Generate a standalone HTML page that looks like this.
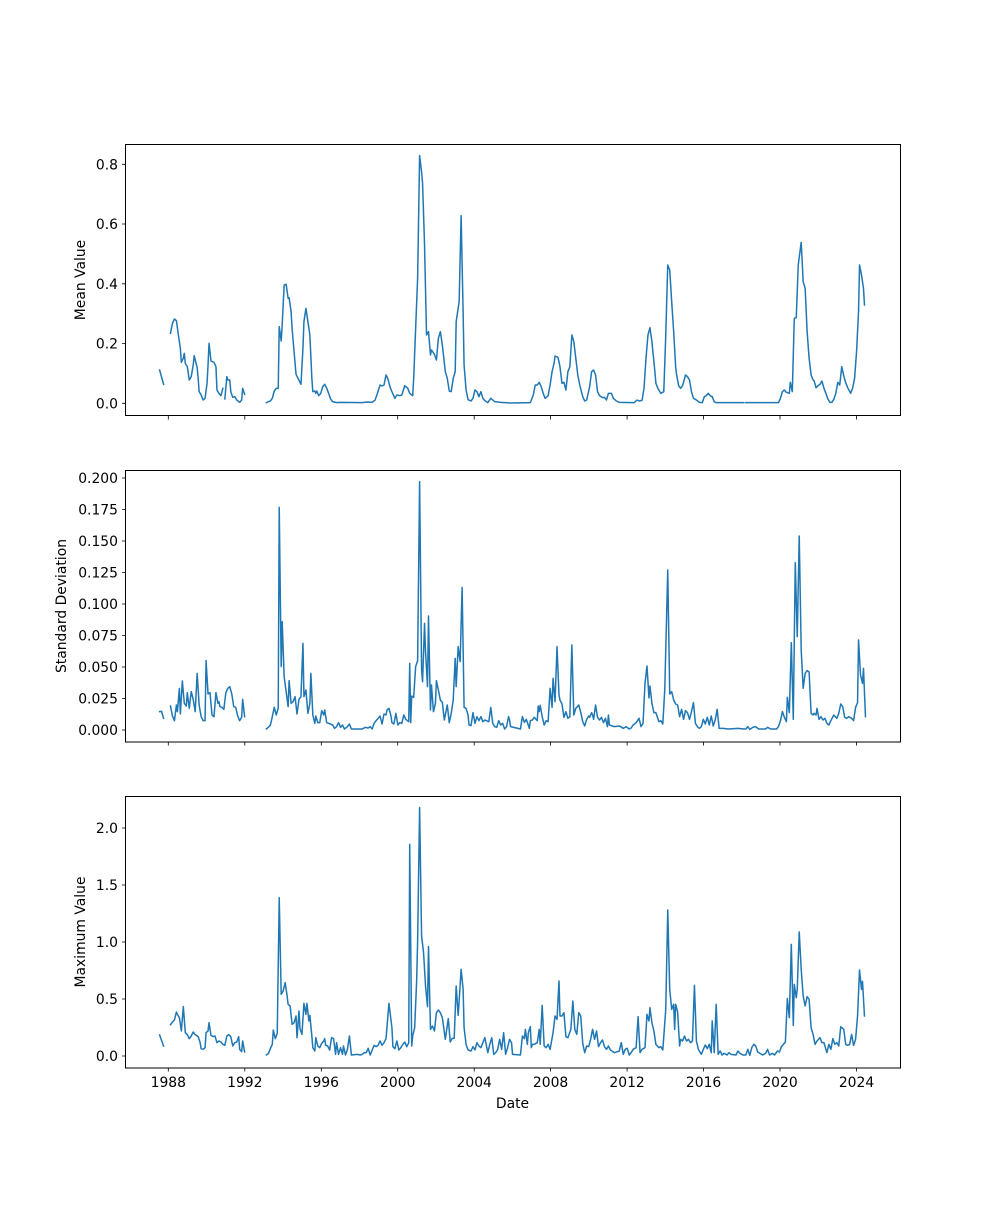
<!DOCTYPE html>
<html><head><meta charset="utf-8"><style>
html,body{margin:0;padding:0;background:#fff;}
svg text{font-family:"DejaVu Sans","Liberation Sans",sans-serif;font-size:13.9px;fill:#000;}
polyline{vector-effect:non-scaling-stroke;}
</style></head><body>
<svg width="1000" height="1200" viewBox="0 0 1000 1200" xmlns="http://www.w3.org/2000/svg">
<rect width="1000" height="1200" fill="#fff"/>

<!-- Panel 1 -->
<g transform="translate(125,145) scale(0.4943,0.33333)" fill="none" stroke="#1f77b4" stroke-width="1.5" stroke-linejoin="round" stroke-linecap="square">
<polyline points="70,675 78,718"/>
<polyline points="92,565 96,535 100,522 104,527 108,570 112,610 114,652 118,640 120,625 122,655 126,665 130,705 134,695 138,660 140,632 146,668 148,700 150,740 154,750 158,765 162,760 166,715 168,660 170,595 174,648 180,652 184,665 186,735 190,745 194,752 198,730"/>
<polyline points="202,762 206,695 208,705 212,705 214,740 218,757 222,755 226,765 232,772 236,765 238,730 242,748"/>
<polyline points="286,773 290,770 294,768 298,760 302,738 306,730 310,730 312,545 316,588 318,540 322,420 326,418 330,460 332,458 336,500 338,550 342,620 346,688 350,700 356,718 360,610 362,530 366,490 370,530 374,570 378,700 380,740 384,738 386,745 388,738 392,752 396,745 400,725 404,718 408,730 412,745 416,762 420,770 428,773 436,772 480,773 490,771 500,772 506,765 510,748 516,720 520,723 524,720 528,690 532,702 536,725 540,740 546,760 550,750 556,752 560,750 566,722 572,730 576,745 582,752 584,700 588,550 592,400 596,32 600,80 602,115 606,300 610,570 614,560 618,630 620,615 626,628 630,645 634,580 638,560 642,600 648,680 652,700 656,738 660,740 664,700 668,680 670,530 676,470 680,212 684,500 686,660 690,735 694,764 700,768 704,760 708,735 712,740 716,755 720,740 724,760 728,767 734,773 740,760 748,770 760,772 780,774 820,773 826,750 830,720 834,720 838,712 842,725 846,745 850,760 856,752 860,720 864,680 868,655 870,633 876,637 880,665 884,715 888,712 892,735 896,680 900,665 904,570 908,590 912,640 916,690 920,720 926,755 930,768 934,765 940,725 944,680 948,675 952,690 956,740 960,752 966,758 970,757 974,765 978,745 984,745 988,760 994,768 1000,772 1030,773 1036,765 1040,768 1046,766 1050,730 1054,640 1058,570 1062,548 1066,590 1072,680 1074,715 1078,730 1084,745 1090,740 1094,570 1098,360 1102,375 1106,470 1110,560 1114,665 1116,690 1120,722 1124,730 1128,722 1134,690 1138,695 1142,705 1146,740 1150,760 1156,765 1162,772 1168,773 1172,755 1176,752 1180,745 1184,752 1188,755 1192,770 1196,773 1252,773"/>
<polyline points="1256,773 1322,773 1326,760 1330,740 1334,735 1338,742 1344,745 1346,712 1350,740 1354,520 1358,518 1362,360 1368,292 1372,410 1376,430 1380,560 1384,640 1388,690 1392,705 1394,707 1398,728 1402,722 1406,718 1410,708 1414,730 1418,745 1422,762 1426,772 1430,772 1434,763 1438,745 1442,712 1446,720 1450,665 1454,692 1458,713 1462,728 1468,745 1472,730 1476,700 1480,620 1484,500 1486,360 1490,390 1494,430 1496,480"/>
</g>

<!-- Panel 2 -->
<g transform="translate(125,470) scale(0.4943,0.33333)" fill="none" stroke="#1f77b4" stroke-width="1.5" stroke-linejoin="round" stroke-linecap="square">
<polyline points="70,725 74,724 78,745"/>
<polyline points="92,708 96,738 100,752 104,705 106,725 110,655 112,732 116,633 120,700 124,708 126,668 130,715 134,665 138,688 142,725 146,610 150,705 154,740 158,752 162,752 164,572 168,672 172,668 176,735 180,740 184,668 188,700 190,695 192,710 196,712 200,718 204,668 208,655 212,650 216,672 220,710 224,712 228,738 232,752 236,742 238,688 242,740"/>
<polyline points="286,777 290,772 294,766 298,740 302,712 306,735 310,715 312,112 316,590 318,455 322,620 326,665 330,710 332,632 336,700 340,695 344,680 348,732 352,688 356,680 360,520 362,680 366,660 370,730 374,700 376,610 380,735 384,760 386,738 390,758 394,758 398,722 402,735 404,720 408,758 412,760 420,765 424,775 428,770 432,758 436,772 440,765 444,777 450,770 454,762 458,777 480,777 486,772 492,774 496,770 500,777 504,760 508,752 512,745 516,738 520,762 524,732 528,735 530,720 534,715 538,737 540,758 544,762 548,730 552,765 556,758 560,760 564,735 568,748 574,755 576,580 578,758 580,678 584,682 588,590 592,572 596,35 600,600 602,635 606,460 608,545 612,650 614,438 618,720 620,645 624,725 628,700 630,632 634,660 638,690 642,697 646,750 652,705 656,758 660,730 664,690 668,565 670,650 674,530 678,575 682,352 686,712 690,715 694,735 696,765 700,767 704,728 708,760 712,740 716,752 720,740 724,755 728,750 736,755 740,712 744,760 748,770 752,772 756,752 760,765 764,760 768,777 772,770 776,740 778,750 780,770 800,777 804,740 808,757 812,748 818,775 820,752 824,750 828,742 834,752 836,708 838,725 840,706 844,740 848,765 852,752 856,755 860,655 864,712 866,625 870,695 874,530 878,675 880,690 884,702 888,742 892,725 896,745 900,740 904,525 908,735 912,715 918,705 922,727 926,755 930,768 934,748 938,738 940,742 944,728 946,735 948,748 952,705 956,742 960,750 964,742 968,758 972,745 976,770 978,735 980,765 990,770 1000,768 1008,775 1014,770 1020,777 1024,774 1028,765 1034,758 1040,745 1044,770 1048,760 1052,640 1056,588 1060,684 1062,648 1066,700 1070,728 1074,728 1080,755 1084,752 1088,762 1092,658 1098,300 1102,672 1106,665 1110,690 1114,702 1118,705 1122,740 1126,718 1130,748 1134,722 1138,728 1142,748 1146,725 1150,698 1154,760 1158,770 1162,775 1166,770 1170,748 1174,762 1178,742 1182,765 1186,738 1190,768 1194,750 1198,718 1202,775 1210,775 1220,777 1240,775 1252,777 1256,777 1260,770 1264,778 1270,772 1276,770 1282,777 1296,777 1300,772 1306,777 1318,777 1322,770 1326,752 1330,725 1334,742 1338,755 1340,682 1344,728 1348,518 1352,748 1356,278 1360,500 1364,198 1368,540 1372,655 1376,610 1380,602 1384,606 1388,730 1392,735 1394,730 1398,735 1400,715 1404,748 1408,740 1412,750 1416,745 1420,760 1424,765 1428,752 1434,735 1440,745 1444,730 1448,702 1452,710 1456,742 1460,745 1464,740 1470,745 1474,752 1478,712 1482,698 1484,510 1488,615 1492,640 1494,595 1498,740"/>
</g>

<!-- Panel 3 -->
<g transform="translate(125,796) scale(0.4943,0.33333)" fill="none" stroke="#1f77b4" stroke-width="1.5" stroke-linejoin="round" stroke-linecap="square">
<polyline points="70,717 78,750"/>
<polyline points="92,686 96,678 100,672 104,648 106,655 110,665 114,705 118,632 122,710 126,716 130,728 134,720 138,708 142,716 148,722 152,740 154,758 158,760 162,755 164,710 168,705 170,680 174,718 178,722 182,720 186,740 190,735 194,738 198,745 202,748 206,720 210,716 214,722 218,750 222,740 226,738 230,722 232,760 236,767 238,735 242,768"/>
<polyline points="286,777 290,773 294,758 298,745 300,702 304,728 308,712 312,305 316,595 320,585 324,560 328,600 330,625 334,630 338,685 342,680 346,660 348,725 352,645 354,698 358,715 362,622 366,655 368,622 372,675 374,658 378,720 380,755 384,765 386,725 390,750 394,755 398,742 402,735 404,728 406,748 410,750 414,762 418,725 422,728 426,775 428,740 432,775 436,755 440,775 442,750 446,777 450,760 454,720 458,777 470,775 476,777 480,775 484,770 488,770 492,757 496,777 500,762 504,748 508,752 512,748 516,735 520,748 524,740 528,728 534,622 540,695 542,752 546,758 550,735 554,762 558,755 562,745 566,738 570,752 574,740 576,145 580,750 582,720 586,695 590,555 592,435 596,35 600,420 604,470 608,570 612,632 614,452 618,700 622,690 626,705 630,650 634,642 638,650 642,665 648,730 654,668 658,738 662,727 666,727 670,570 674,658 676,615 680,520 684,580 686,695 690,745 694,762 700,765 704,752 708,762 712,740 716,750 720,755 724,740 728,725 730,740 734,770 738,745 742,725 746,775 750,770 754,760 758,730 762,760 766,710 770,775 774,755 778,730 782,740 784,775 800,777 804,720 808,728 810,700 814,745 816,710 820,692 822,755 824,745 828,745 834,740 838,700 840,745 844,628 848,750 852,755 856,745 860,760 866,710 870,660 874,670 878,555 880,660 884,660 888,650 892,722 896,725 902,700 906,615 910,700 914,715 918,650 922,660 926,742 930,770 934,750 938,752 942,730 946,700 950,730 954,705 958,752 962,740 966,732 970,752 974,760 978,750 982,762 990,770 1000,765 1004,740 1008,775 1012,760 1016,757 1020,777 1024,770 1028,760 1034,755 1038,662 1042,770 1046,760 1052,755 1056,655 1060,675 1062,635 1066,680 1070,705 1074,745 1080,755 1084,752 1088,762 1094,640 1098,342 1102,580 1106,640 1110,625 1112,700 1114,625 1118,648 1122,750 1124,730 1128,735 1132,720 1136,735 1140,730 1144,740 1148,735 1152,568 1156,735 1160,760 1166,775 1170,760 1174,747 1178,758 1182,745 1186,770 1188,675 1192,770 1196,625 1200,775 1204,765 1208,777 1212,772 1218,777 1222,770 1226,775 1236,777 1240,765 1244,772 1250,777 1256,777 1260,760 1264,778 1268,755 1272,745 1276,750 1280,768 1290,777 1296,772 1300,760 1304,777 1310,772 1314,777 1320,765 1324,768 1328,752 1332,745 1336,738 1340,608 1344,665 1348,445 1352,688 1354,565 1358,605 1360,580 1364,408 1368,520 1372,600 1376,630 1380,602 1384,610 1388,695 1392,715 1396,745 1400,735 1406,725 1410,740 1414,740 1420,770 1424,745 1428,760 1432,728 1436,745 1440,740 1444,750 1448,692 1454,700 1458,745 1462,748 1466,745 1470,715 1474,748 1478,730 1482,660 1486,522 1490,580 1492,556 1496,660"/>
</g>

<!-- Axes frames -->
<g fill="none" stroke="#000" stroke-width="1">
<rect x="125.5" y="144.5" width="775" height="271"/>
<rect x="125.5" y="470.5" width="775" height="271.5"/>
<rect x="125.5" y="796.5" width="775" height="271.5"/>
</g>

<!-- X ticks -->
<g stroke="#000" stroke-width="0.8">
<path d="M168.3,416v3.5M244.8,416v3.5M321.3,416v3.5M397.7,416v3.5M474.2,416v3.5M550.6,416v3.5M627.1,416v3.5M703.6,416v3.5M780,416v3.5M856.5,416v3.5"/>
<path d="M168.3,742v3.5M244.8,742v3.5M321.3,742v3.5M397.7,742v3.5M474.2,742v3.5M550.6,742v3.5M627.1,742v3.5M703.6,742v3.5M780,742v3.5M856.5,742v3.5"/>
<path d="M168.3,1068v3.5M244.8,1068v3.5M321.3,1068v3.5M397.7,1068v3.5M474.2,1068v3.5M550.6,1068v3.5M627.1,1068v3.5M703.6,1068v3.5M780,1068v3.5M856.5,1068v3.5"/>
</g>
<g text-anchor="middle">
<text x="168.3" y="1087">1988</text><text x="244.8" y="1087">1992</text><text x="321.3" y="1087">1996</text><text x="397.7" y="1087">2000</text><text x="474.2" y="1087">2004</text><text x="550.6" y="1087">2008</text><text x="627.1" y="1087">2012</text><text x="703.6" y="1087">2016</text><text x="780" y="1087">2020</text><text x="856.5" y="1087">2024</text>
<text x="512.5" y="1108">Date</text>
</g>

<!-- Y ticks -->
<g stroke="#000" stroke-width="0.8">
<path d="M122,403.3h3.5M122,343.5h3.5M122,283.8h3.5M122,224h3.5M122,164.3h3.5"/>
<path d="M122,730h3.5M122,698.5h3.5M122,667h3.5M122,635.5h3.5M122,604h3.5M122,572.5h3.5M122,541h3.5M122,509.5h3.5M122,478h3.5"/>
<path d="M122,1056h3.5M122,999h3.5M122,942h3.5M122,885h3.5M122,828h3.5"/>
</g>
<g text-anchor="end">
<text x="118" y="408.3">0.0</text><text x="118" y="348.5">0.2</text><text x="118" y="288.8">0.4</text><text x="118" y="229">0.6</text><text x="118" y="169.3">0.8</text>
<text x="118" y="735">0.000</text><text x="118" y="703.5">0.025</text><text x="118" y="672">0.050</text><text x="118" y="640.5">0.075</text><text x="118" y="609">0.100</text><text x="118" y="577.5">0.125</text><text x="118" y="546">0.150</text><text x="118" y="514.5">0.175</text><text x="118" y="483">0.200</text>
<text x="118" y="1061">0.0</text><text x="118" y="1004">0.5</text><text x="118" y="947">1.0</text><text x="118" y="890">1.5</text><text x="118" y="833">2.0</text>
</g>
<text transform="translate(85,280) rotate(-90)" text-anchor="middle">Mean Value</text>
<text transform="translate(66,606) rotate(-90)" text-anchor="middle">Standard Deviation</text>
<text transform="translate(85,932) rotate(-90)" text-anchor="middle">Maximum Value</text>
</svg>
</body></html>
